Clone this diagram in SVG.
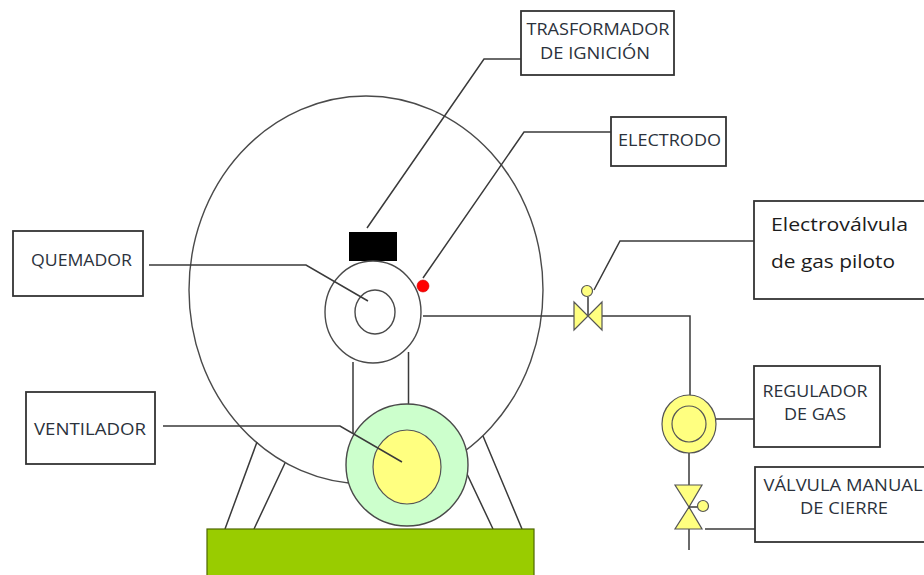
<svg xmlns="http://www.w3.org/2000/svg" width="924" height="575" viewBox="0 0 924 575">
<style>
.l{fill:none;stroke:#3a3a3a;stroke-width:1.5}
.b{fill:#fff;stroke:#333;stroke-width:1.8}
.y{fill:#ffff80;stroke:#555;stroke-width:1.2}
.w{fill:#fff;stroke:#4a4a4a;stroke-width:1.4}
text{font-family:"Open Sans","Noto Sans","Liberation Sans",sans-serif;font-size:16.5px;fill:#2b323c;text-anchor:middle}
.big{font-size:18px;fill:#1c1c1c;text-anchor:start}
</style>
<rect width="924" height="575" fill="#fff"/>
<g id="tambor"><ellipse cx="366" cy="290" rx="177" ry="194" class="w"/></g>
<g id="soportes">
<path class="l" d="M257 442L225 529M285 463L254 529M467 474L493 529M483 436L522 529"/>
</g>
<g id="base"><rect x="207" y="529" width="327" height="50" fill="#99cc00" stroke="#4d6600" stroke-width="1.2"/></g>
<g id="quemador-equipo">
<rect x="349" y="232" width="48" height="29" fill="#000"/>
<ellipse cx="373" cy="312" rx="48" ry="51" class="w"/>
<ellipse cx="375" cy="312" rx="20" ry="22" class="w"/>
<circle cx="423" cy="286" r="6" fill="#f00" stroke="#c00" stroke-width="0.600"/>
</g>
<g id="ducto"><path class="l" d="M353 362V433M408.500 352V404"/></g>
<g id="ventilador-equipo">
<circle cx="407" cy="465" r="61" fill="#ccffcc" stroke="#4a4a4a" stroke-width="1.400"/>
<ellipse cx="407" cy="467" rx="34" ry="37" class="y"/>
</g>
<g id="connectors">
<path class="l" d="M367 228L484 59H524"/>
<path class="l" d="M423 278L524 132H613"/>
<path class="l" d="M149 265H306L368 301"/>
<path class="l" d="M163 426H340L402 462"/>
<path class="l" d="M594 290L620 241H754"/>
<path class="l" d="M423 316H574M602 316H690V396"/>
<path class="l" d="M716 419H754"/>
<path class="l" d="M689 453V485M689 529V550"/>
<path class="l" d="M705 529H755"/>
</g>
<g id="valvula-piloto">
<path class="l" d="M588 316V297"/>
<polygon points="574,302 588,316 574,330" class="y"/>
<polygon points="602,302 588,316 602,330" class="y"/>
<circle cx="587" cy="291" r="5.500" class="y"/>
</g>
<g id="regulador">
<ellipse cx="689" cy="424" rx="27" ry="29" class="y"/>
<ellipse cx="689" cy="424" rx="17" ry="18" class="y"/>
</g>
<g id="valvula-manual">
<polygon points="675,485 702,485 689,507" class="y"/>
<polygon points="675,529 702,529 689,507" class="y"/>
<path class="l" d="M689 507H698"/>
<circle cx="703" cy="506" r="5.500" class="y"/>
</g>
<g id="n-trasformador"><rect x="521" y="11" width="153" height="64" class="b"/><text x="598" y="35" textLength="143" lengthAdjust="spacingAndGlyphs">TRASFORMADOR</text><text x="595" y="59" textLength="110" lengthAdjust="spacingAndGlyphs">DE IGNICIÓN</text></g>
<g id="n-electrodo"><rect x="611" y="117" width="115" height="49" class="b"/><text x="669.500" y="146" textLength="103" lengthAdjust="spacingAndGlyphs">ELECTRODO</text></g>
<g id="n-electrovalvula"><rect x="754" y="201" width="175" height="98" class="b"/><text class="big" x="771" y="231" textLength="137" lengthAdjust="spacingAndGlyphs">Electroválvula</text><text class="big" x="771" y="268" textLength="124" lengthAdjust="spacingAndGlyphs">de gas piloto</text></g>
<g id="n-quemador"><rect x="13" y="231" width="130" height="65" class="b"/><text x="81.500" y="266" textLength="101" lengthAdjust="spacingAndGlyphs">QUEMADOR</text></g>
<g id="n-ventilador"><rect x="26" y="392" width="129" height="72" class="b"/><text x="90" y="435" textLength="112" lengthAdjust="spacingAndGlyphs">VENTILADOR</text></g>
<g id="n-regulador"><rect x="754" y="366" width="126" height="81" class="b"/><text x="815" y="397" textLength="105" lengthAdjust="spacingAndGlyphs">REGULADOR</text><text x="815" y="420" textLength="62" lengthAdjust="spacingAndGlyphs">DE GAS</text></g>
<g id="n-valvula"><rect x="755" y="467" width="175" height="75" class="b"/><text x="843" y="491" textLength="159" lengthAdjust="spacingAndGlyphs">VÁLVULA MANUAL</text><text x="844" y="514" textLength="88" lengthAdjust="spacingAndGlyphs">DE CIERRE</text></g>
</svg>
